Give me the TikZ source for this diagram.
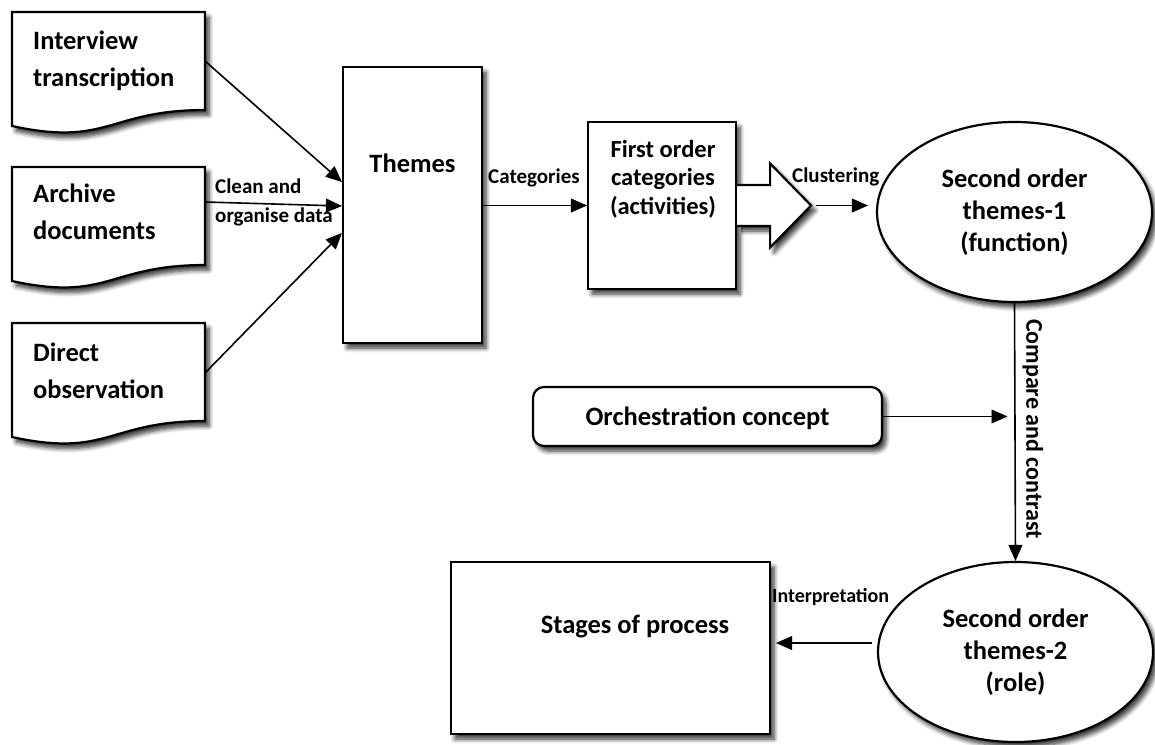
\documentclass[tikz,border=0pt]{standalone}
\usepackage{fontspec}
\setmainfont{Carlito}
\usetikzlibrary{arrows.meta,shapes.geometric,shadows.blur,calc}

\begin{document}
\begin{tikzpicture}[x=1pt,y=-1pt,
  soft shadow/.style={blur shadow={shadow xshift=4pt,shadow yshift=-5pt,
      shadow blur radius=4.5pt,shadow blur steps=6,shadow opacity=80}},
  box/.style={draw=black,line width=2.2pt,fill=white,inner sep=0pt,soft shadow},
  ghost/.style={inner sep=0pt,outer sep=0pt},
  arr/.style={draw=black,line width=1.6pt,
      -{Triangle[length=16pt,width=14pt,fill=black,line width=0.5pt]}},
  big/.style={font=\fontsize{26.5}{37}\selectfont\bfseries,inner sep=0pt},
  oval/.style={font=\fontsize{26.5}{32}\selectfont\bfseries,align=center},
  mid/.style={font=\fontsize{24.5}{28.5}\selectfont\bfseries,inner sep=0pt},
  small/.style={font=\fontsize{21}{29}\selectfont\bfseries,inner sep=0pt},
]
\useasboundingbox (0,0) rectangle (1155,744);

% document shapes with a wavy lower edge
\newcommand\drawdoc[1]{%
  \path[draw=black,line width=2.2pt,fill=white,soft shadow]
    (#1.north west) -- (#1.north east) -- ($(#1.north east)+(0,98)$)
    .. controls ($(#1.north)+(0,98)$) and ($(#1.north)+(0,135)$) ..
    ($(#1.north west)+(0,114)$) -- cycle;}

\node[ghost,minimum width=193,minimum height=122] (doc1) at (108.5,73) {};
\node[ghost,minimum width=193,minimum height=122] (doc2) at (108.5,228) {};
\node[ghost,minimum width=193,minimum height=122] (doc3) at (108.5,384) {};
\drawdoc{doc1}
\drawdoc{doc2}
\drawdoc{doc3}
% multi-line nodes: the base anchor sits on the last line
\node[big,anchor=base west,align=left] (doc1txt) at (33,86) {Interview\\transcription};
\node[big,anchor=base west,align=left] (doc2txt) at (33,239) {Archive\\documents};
\node[big,anchor=base west,align=left] (doc3txt) at (33,398) {Direct\\observation};

% themes
\node[box,minimum width=139,minimum height=276] (themes) at (412.5,205) {};
\node[big,anchor=base] (themestxt) at (412.5,172) {Themes};

% first order categories with its block arrow
\node[box,minimum width=148,minimum height=167] (first) at (662,205.5) {};
\path[draw=black,line width=2.2pt,fill=white,soft shadow]
  ($(first.east)+(0,-20.5)$) -- ($(first.east)+(33,-20.5)$) -- ($(first.east)+(33,-42)$)
  -- ($(first.east)+(74,0)$) coordinate (tip) -- ($(first.east)+(33,42)$)
  -- ($(first.east)+(33,20.5)$) -- ($(first.east)+(0,20.5)$);
\node[mid,anchor=base,align=center] (firsttxt) at (663,214)
  {First order\\categories\\(activities)};

% second order themes
\node[box,ellipse,minimum width=275,minimum height=180,oval] (sec1) at (1014.5,212)
  {Second order\\themes-1\\(function)};
\node[box,ellipse,minimum width=275,minimum height=180,oval] (sec2) at (1015.5,652)
  {Second order\\themes-2\\(role)};

% orchestration concept and stages of process
\node[box,rounded corners=11pt,minimum width=349,minimum height=59] (orch) at (707.5,416.5) {};
\node[big,anchor=base] (orchtxt) at (707.5,425) {Orchestration concept};
\node[box,minimum width=319,minimum height=172] (stages) at (610.5,648) {};
\node[big,anchor=base] (stagestxt) at (635,633) {Stages of process};

% connectors
\draw[arr] ($(doc1.east)+(0,-12)$) -- ($(themes.west)+(0,-23)$);
\draw[arr] ($(doc2.east)+(0,-26)$) -- ($(themes.west)+(0,1)$);
\draw[arr] ($(doc3.east)+(0,-11)$) -- ($(themes.west)+(0,28)$);
\draw[arr] (themes.east |- first.west) -- (first.west);
\draw[arr,shorten >=8pt] ($(tip)+(5,0)$) -- (tip -| sec1.west);
\draw[arr] (sec1.south) -- (sec2.north);
\draw[arr,shorten >=7pt] (orch.east) -- (orch.east -| sec1.south);
\draw[arr,shorten >=5pt] ($(sec2.west)+(-5,-9)$) -- (stages.east |- {$(sec2.west)+(0,-9)$});

% connector labels
\node[small,anchor=base west,align=left] (cleanlbl) at (215,222) {Clean and\\organise data};
\node[small,anchor=base west] (catlbl) at (488,183) {Categories};
\node[small,anchor=base west] (clulbl) at (792,182) {Clustering};
\node[small,anchor=base west,font=\fontsize{20}{26}\selectfont\bfseries] (intlbl) at (772,602) {Interpretation};
\node[inner sep=0pt,rotate=-90,font=\fontsize{24}{28}\selectfont\bfseries] (cmplbl) at (1033,429) {Compare and contrast};
\end{tikzpicture}
\end{document}
